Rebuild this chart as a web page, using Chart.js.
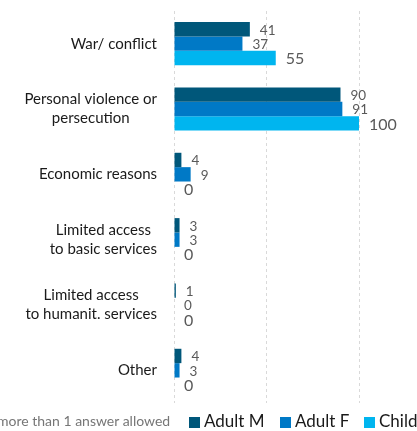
<!DOCTYPE html>
<html>
<head>
<meta charset="utf-8">
<script src="https://cdn.jsdelivr.net/npm/chart.js@4.4.1/dist/chart.umd.min.js"></script>
<style>
  body { margin: 0; background: #fff; font-family: Lato, sans-serif; }
  #wrap { position: relative; width: 417px; height: 431px; overflow: hidden; }
  #note { position: absolute; left: -3px; top: 412px; font-size: 14px; color: #767676; white-space: nowrap; }
  #legend { position: absolute; left: 189px; top: 410px; font-size: 17px; color: #1a1a1a; white-space: nowrap; }
  #legend span.item { position: absolute; top: 0; }
  #legend i { display: inline-block; width: 11px; height: 11px; margin-right: 4px; vertical-align: -1px; }
</style>
</head>
<body>
<div id="wrap">
  <canvas id="chart" width="417" height="431"></canvas>
  <div id="note">more than 1 answer allowed</div>
  <div id="legend"></div>
</div>
<script>
/////////////// data ///////////////
var categories = [
    ['War/ conflict'],
    ['Personal violence or', 'persecution'],
    ['Economic reasons'],
    ['Limited access', 'to basic services'],
    ['Limited access', 'to humanit. services'],
    ['Other']
];
var seriesNames = ['Adult M', 'Adult F', 'Child'];
var adultM = [41, 90, 4, 3, 1, 4];
var adultF = [37, 91, 9, 3, 0, 3];
var child = [55, 100, 0, 0, 0, 0];
var xTicks = [0, 50, 100];

var colors = ['#00577A', '#0079C6', '#00B5EF'];

/////////////// category labels (centred lines, block right aligned) ///////////////
var catLabels = {
    id: 'catLabels',
    afterDraw: function (chart) {
        var ctx = chart.ctx;
        var y = chart.scales.y;
        ctx.save();
        ctx.font = '15px Lato';
        ctx.fillStyle = '#1a1a1a';
        ctx.textAlign = 'center';
        ctx.textBaseline = 'middle';
        categories.forEach(function (lines, i) {
            var w = 0;
            lines.forEach(function (l) { w = Math.max(w, ctx.measureText(l).width); });
            var cx = 157 - w / 2;
            var cy = y.getPixelForValue(i);
            var lh = 19;
            lines.forEach(function (l, j) {
                ctx.fillText(l, cx, cy + (j - (lines.length - 1) / 2) * lh);
            });
        });
        ctx.restore();
    }
};

/////////////// value labels ///////////////
var valueLabels = {
    id: 'valueLabels',
    afterDatasetsDraw: function (chart) {
        var ctx = chart.ctx;
        ctx.save();
        ctx.fillStyle = '#595959';
        ctx.textAlign = 'left';
        ctx.textBaseline = 'middle';
        chart.data.datasets.forEach(function (ds, di) {
            var meta = chart.getDatasetMeta(di);
            ctx.font = di === 2 ? '16px Lato' : '13.5px Lato';
            meta.data.forEach(function (bar, i) {
                ctx.fillText(ds.data[i], bar.x + 10, bar.y + 1);
            });
        });
        ctx.restore();
    }
};

var ctx = document.getElementById('chart').getContext('2d');
var chart = new Chart(ctx, {
    type: 'bar',
    data: {
        labels: categories.map(function (c) { return c.join(' '); }),
        datasets: [
            { label: seriesNames[0], data: adultM, backgroundColor: colors[0] },
            { label: seriesNames[1], data: adultF, backgroundColor: colors[1] },
            { label: seriesNames[2], data: child, backgroundColor: colors[2] }
        ]
    },
    options: {
        indexAxis: 'y',
        responsive: false,
        animation: false,
        barPercentage: 1,
        categoryPercentage: 0.66,
        layout: { padding: { left: 174, right: 21, top: 11, bottom: 28 } },
        plugins: {
            legend: { display: false },
            tooltip: { enabled: false }
        },
        scales: {
            x: {
                min: 0,
                max: 120,
                afterBuildTicks: function (scale) {
                    scale.ticks = xTicks.map(function (v) { return { value: v }; });
                },
                ticks: { display: false },
                grid: { color: '#D9D9D9', lineWidth: 1, drawTicks: false },
                border: { display: false, dash: [3, 3] }
            },
            y: { display: false }
        }
    },
    plugins: [catLabels, valueLabels]
});

/////////////// legend ///////////////
var legend = document.getElementById('legend');
var legendX = [0, 91, 175];
seriesNames.forEach(function (name, i) {
    var s = document.createElement('span');
    s.className = 'item';
    s.style.left = legendX[i] + 'px';
    s.innerHTML = '<i style="background:' + colors[i] + '"></i>' + name;
    legend.appendChild(s);
});
</script>
</body>
</html>
